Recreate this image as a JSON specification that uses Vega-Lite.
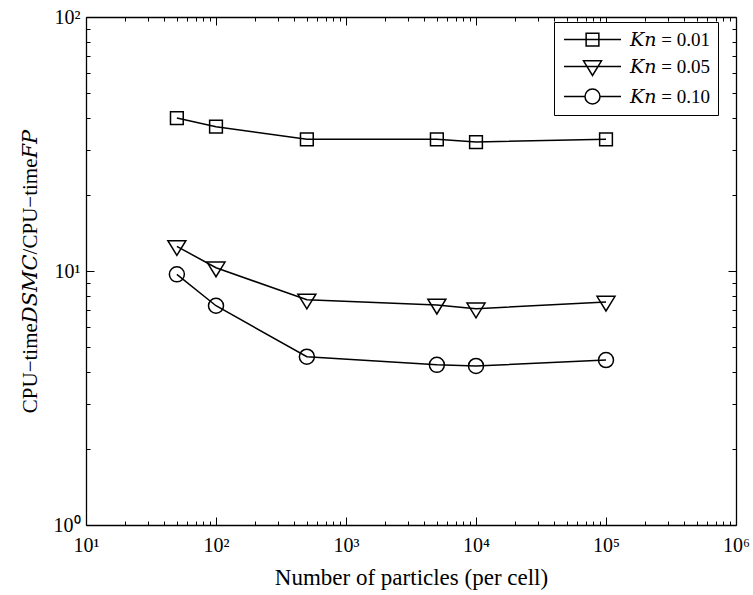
{
  "$schema": "https://vega.github.io/schema/vega-lite/v6.json",
  "width": 650,
  "height": 508,
  "autosize": "none",
  "padding": {"left": 86, "top": 17, "right": 17, "bottom": 70},
  "background": "white",
  "config": {"view": {"stroke": null}, "font": "Liberation Serif"},
  "data": {"values": [
    {"n": 50, "ratio": 40, "kn": "Kn = 0.01"},
    {"n": 100, "ratio": 37, "kn": "Kn = 0.01"},
    {"n": 500, "ratio": 33, "kn": "Kn = 0.01"},
    {"n": 5000, "ratio": 33, "kn": "Kn = 0.01"},
    {"n": 10000, "ratio": 32.2, "kn": "Kn = 0.01"},
    {"n": 100000, "ratio": 33, "kn": "Kn = 0.01"},
    {"n": 50, "ratio": 12.5, "kn": "Kn = 0.05"},
    {"n": 100, "ratio": 10.3, "kn": "Kn = 0.05"},
    {"n": 500, "ratio": 7.7, "kn": "Kn = 0.05"},
    {"n": 5000, "ratio": 7.35, "kn": "Kn = 0.05"},
    {"n": 10000, "ratio": 7.1, "kn": "Kn = 0.05"},
    {"n": 100000, "ratio": 7.55, "kn": "Kn = 0.05"},
    {"n": 50, "ratio": 9.7, "kn": "Kn = 0.10"},
    {"n": 100, "ratio": 7.3, "kn": "Kn = 0.10"},
    {"n": 500, "ratio": 4.6, "kn": "Kn = 0.10"},
    {"n": 5000, "ratio": 4.27, "kn": "Kn = 0.10"},
    {"n": 10000, "ratio": 4.23, "kn": "Kn = 0.10"},
    {"n": 100000, "ratio": 4.46, "kn": "Kn = 0.10"}
  ]},
  "resolve": {"axis": {"x": "independent", "y": "independent"}, "scale": {"shape": "independent"}},
  "layer": [
    {
      "mark": {"type": "line", "color": "black", "strokeWidth": 1.5},
      "encoding": {
        "x": {
          "field": "n", "type": "quantitative",
          "scale": {"type": "log", "domain": [10, 1000000], "nice": false},
          "axis": {
            "orient": "bottom",
            "values": [10,20,30,40,50,60,70,80,90,100,200,300,400,500,600,700,800,900,1000,2000,3000,4000,5000,6000,7000,8000,9000,10000,20000,30000,40000,50000,60000,70000,80000,90000,100000,200000,300000,400000,500000,600000,700000,800000,900000,1000000],
            "labelExpr": "abs(log(datum.value)/LN10 - round(log(datum.value)/LN10)) < 1e-6 ? '10' + ['⁰','¹','²','³','⁴','⁵','⁶'][round(log(datum.value)/LN10)] : ''",
            "tickSize": {"condition": {"test": "abs(log(datum.value)/LN10 - round(log(datum.value)/LN10)) < 1e-6", "value": -8}, "value": -4},
            "labelOverlap": false, "labelFlush": false, "labelBound": false,
            "grid": false,
            "domainColor": "black", "domainWidth": 1.3,
            "tickColor": "black", "tickWidth": 1,
            "labelColor": "black", "labelFontSize": 20, "labelFont": "Liberation Serif", "labelPadding": 18,
            "title": "Number of particles (per cell)",
            "titleFont": "Liberation Serif", "titleFontSize": 23, "titleFontWeight": "normal", "titleColor": "black", "titlePadding": 7
          }
        },
        "y": {
          "field": "ratio", "type": "quantitative",
          "scale": {"type": "log", "domain": [1, 100], "nice": false},
          "axis": {
            "orient": "left",
            "values": [1,2,3,4,5,6,7,8,9,10,20,30,40,50,60,70,80,90,100],
            "labelExpr": "abs(log(datum.value)/LN10 - round(log(datum.value)/LN10)) < 1e-6 ? '10' + ['⁰','¹','²','³','⁴','⁵','⁶'][round(log(datum.value)/LN10)] : ''",
            "tickSize": {"condition": {"test": "abs(log(datum.value)/LN10 - round(log(datum.value)/LN10)) < 1e-6", "value": -8}, "value": -4},
            "labelOverlap": false, "labelFlush": false, "labelBound": false,
            "grid": false,
            "domainColor": "black", "domainWidth": 1.3,
            "tickColor": "black", "tickWidth": 1,
            "labelColor": "black", "labelFontSize": 20, "labelFont": "Liberation Serif", "labelPadding": 14,
            "title": "CPU−time𝐷𝑆𝑀𝐶/CPU−time𝐹𝑃",
            "titleFont": "Liberation Serif, DejaVu Serif", "titleFontSize": 21, "titleFontWeight": "normal", "titleColor": "black", "titlePadding": 13
          }
        },
        "detail": {"field": "kn"}
      }
    },
    {
      "mark": {"type": "point", "filled": false, "color": "black", "strokeWidth": 1.5, "size": 225, "opacity": 1},
      "encoding": {
        "x": {
          "field": "n", "type": "quantitative",
          "axis": {
            "orient": "top",
            "values": [10,20,30,40,50,60,70,80,90,100,200,300,400,500,600,700,800,900,1000,2000,3000,4000,5000,6000,7000,8000,9000,10000,20000,30000,40000,50000,60000,70000,80000,90000,100000,200000,300000,400000,500000,600000,700000,800000,900000,1000000],
            "labels": false, "title": null, "grid": false,
            "tickSize": {"condition": {"test": "abs(log(datum.value)/LN10 - round(log(datum.value)/LN10)) < 1e-6", "value": -8}, "value": -4},
            "domainColor": "black", "domainWidth": 1.3, "tickColor": "black", "tickWidth": 1
          }
        },
        "y": {
          "field": "ratio", "type": "quantitative",
          "axis": {
            "orient": "right",
            "values": [1,2,3,4,5,6,7,8,9,10,20,30,40,50,60,70,80,90,100],
            "labels": false, "title": null, "grid": false,
            "tickSize": {"condition": {"test": "abs(log(datum.value)/LN10 - round(log(datum.value)/LN10)) < 1e-6", "value": -8}, "value": -4},
            "domainColor": "black", "domainWidth": 1.3, "tickColor": "black", "tickWidth": 1
          }
        },
        "shape": {
          "field": "kn", "type": "nominal",
          "scale": {
            "domain": ["Kn = 0.01", "Kn = 0.05", "Kn = 0.10"],
            "range": ["M-0.85,-0.85H0.85V0.85H-0.85Z", "M-1.2,-0.76H1.2L0,1.2Z", "M1,0A1,1,0,1,1,-1,0A1,1,0,1,1,1,0Z"]
          },
          "legend": null
        }
      }
    },
    {
      "transform": [{"filter": "datum.n < 0"}],
      "mark": {"type": "point", "filled": false, "color": "black", "strokeWidth": 1.5, "size": 225, "opacity": 1},
      "encoding": {
        "x": {"field": "n", "type": "quantitative", "axis": null},
        "y": {"field": "ratio", "type": "quantitative", "axis": null},
        "shape": {
          "field": "kn", "type": "nominal",
          "scale": {
            "domain": ["Kn = 0.01", "Kn = 0.05", "Kn = 0.10"],
            "range": ["M-3.8,0H3.8M-0.85,-0.85H0.85V0.85H-0.85Z", "M-3.8,0H3.8M-1.2,-0.76H1.2L0,1.2Z", "M-3.8,0H-1M1,0H3.8M1,0A1,1,0,1,1,-1,0A1,1,0,1,1,1,0Z"]
          },
          "legend": {
            "title": null,
            "orient": "none",
            "legendX": 468,
            "legendY": 5,
            "strokeColor": "black",
            "fillColor": "white",
            "padding": 8,
            "symbolSize": 225,
            "symbolStrokeColor": "black",
            "symbolStrokeWidth": 1.5,
            "symbolOpacity": 1,
            "symbolOffset": 21,
            "labelOffset": 28,
            "labelFont": "Liberation Serif, DejaVu Serif",
            "labelFontSize": 19,
            "labelColor": "black",
            "rowPadding": 7,
            "labelExpr": "replace(datum.label, 'Kn', '𝐾𝑛')"
          }
        }
      }
    }
  ]
}
